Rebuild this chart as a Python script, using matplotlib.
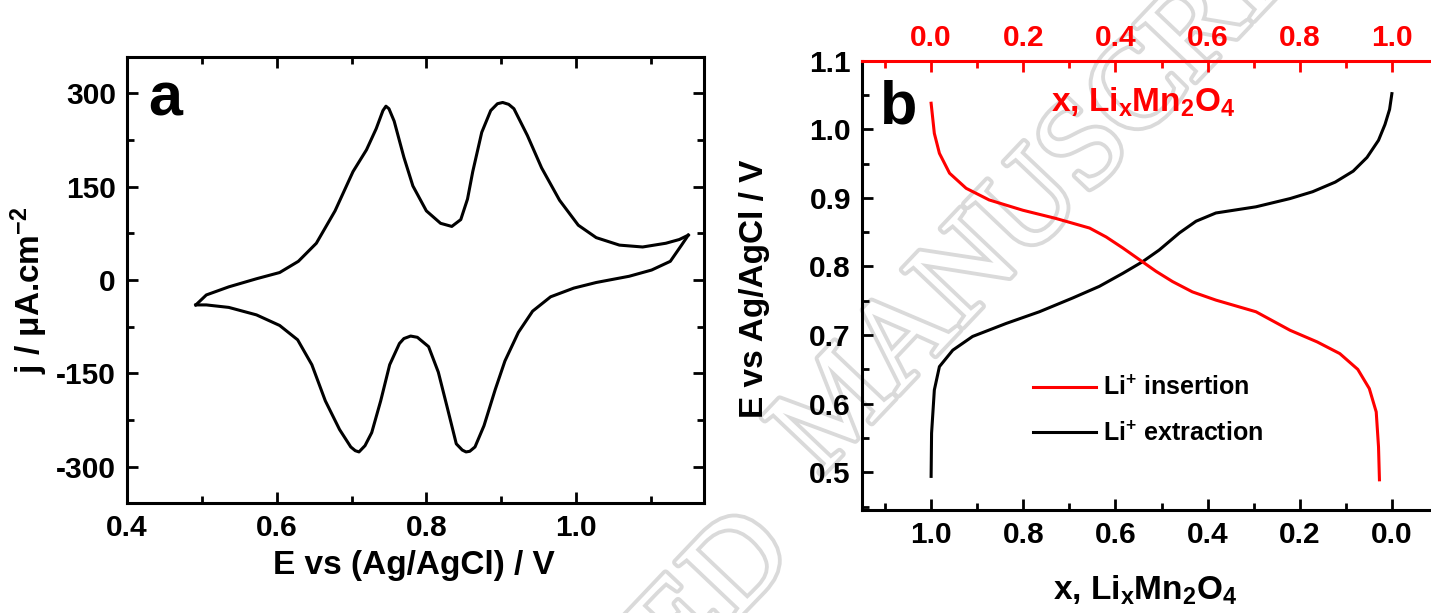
import numpy as np
import matplotlib
matplotlib.use('Agg')
import matplotlib.pyplot as plt
from matplotlib import patheffects
from matplotlib.ticker import MultipleLocator, FormatStrFormatter

plt.rcParams['font.family'] = ['Liberation Sans', 'DejaVu Sans']
plt.rcParams['font.weight'] = 'bold'
plt.rcParams['axes.labelweight'] = 'bold'
plt.rcParams['axes.unicode_minus'] = False
plt.rcParams['mathtext.fontset'] = 'custom'
plt.rcParams['mathtext.bf'] = 'Liberation Sans:bold'
plt.rcParams['mathtext.rm'] = 'Liberation Sans:bold'
plt.rcParams['mathtext.default'] = 'bf'

# panel a: cyclic voltammogram, anodic sweep (left vertex -> right vertex)
cv_E_up = [0.492, 0.506, 0.536, 0.573, 0.604, 0.629, 0.653, 0.678, 0.702, 0.720,
           0.733, 0.742, 0.746, 0.750, 0.757, 0.770, 0.782, 0.800, 0.819, 0.834,
           0.846, 0.855, 0.862, 0.874, 0.886, 0.895, 0.902, 0.910, 0.917, 0.935,
           0.954, 0.978, 1.003, 1.027, 1.058, 1.089, 1.120, 1.138, 1.150]
cv_j_up = [-40, -24, -11, 2, 12, 30, 59, 111, 174, 209,
           243, 272, 279, 275, 255, 197, 151, 111, 91, 86,
           97, 130, 174, 237, 272, 283, 285, 282, 275, 232,
           180, 128, 88, 68, 56, 53, 59, 65, 72]
# cathodic sweep (right vertex -> left vertex)
cv_E_down = [1.150, 1.141, 1.126, 1.101, 1.071, 1.027, 0.997, 0.966, 0.942, 0.923,
             0.905, 0.892, 0.877, 0.865, 0.858, 0.853, 0.848, 0.840, 0.828, 0.816,
             0.803, 0.788, 0.779, 0.770, 0.764, 0.751, 0.739, 0.727, 0.718, 0.714,
             0.710, 0.705, 0.699, 0.684, 0.665, 0.647, 0.628, 0.604, 0.573, 0.536,
             0.506, 0.492]
cv_j_down = [72, 56, 30, 16, 6, -4, -13, -27, -50, -84,
             -130, -176, -234, -268, -275, -276, -273, -263, -205, -148,
             -107, -92, -90, -94, -102, -136, -194, -245, -266, -271,
             -276, -274, -268, -240, -194, -136, -96, -73, -56, -44,
             -40, -40]

# panel b: Li+ insertion (top axis x) and extraction (bottom axis x)
ins_x = [0.000, 0.007, 0.018, 0.040, 0.076, 0.126, 0.199, 0.271, 0.344, 0.380,
         0.416, 0.452, 0.488, 0.524, 0.567, 0.618, 0.705, 0.779, 0.838, 0.887,
         0.926, 0.951, 0.966, 0.971, 0.973]
ins_E = [1.038, 0.994, 0.965, 0.936, 0.914, 0.897, 0.882, 0.870, 0.856, 0.843,
         0.827, 0.810, 0.793, 0.778, 0.763, 0.751, 0.734, 0.707, 0.690, 0.673,
         0.650, 0.622, 0.588, 0.537, 0.489]
ext_x = [1.000, 0.999, 0.993, 0.982, 0.953, 0.910, 0.837, 0.765, 0.693, 0.635,
         0.584, 0.541, 0.505, 0.461, 0.425, 0.382, 0.295, 0.221, 0.172, 0.123,
         0.084, 0.054, 0.029, 0.015, 0.005, 0.000]
ext_E = [0.494, 0.557, 0.620, 0.654, 0.678, 0.698, 0.717, 0.734, 0.754, 0.771,
         0.790, 0.807, 0.824, 0.849, 0.866, 0.878, 0.887, 0.899, 0.909, 0.923,
         0.939, 0.959, 0.984, 1.007, 1.029, 1.052]

W, H = 1431, 613
fig = plt.figure(figsize=(W / 100, H / 100), dpi=100)

def px_box(l, t, r, b):
    return [l / W, 1 - b / H, (r - l) / W, (b - t) / H]

def style_ticks(axis_obj, **kw):
    axis_obj.tick_params(which='both', direction='in', width=2, labelsize=21.5, **kw)
    axis_obj.tick_params(which='major', length=8)
    axis_obj.tick_params(which='minor', length=5)

# hollow watermark, drawn behind the axes
wm = dict(rotation=46.5, rotation_mode='anchor', va='baseline', fontsize=91,
          family='Liberation Serif', weight='normal', color='white', zorder=-5,
          path_effects=[patheffects.Stroke(linewidth=5.5, foreground='#dadada'),
                        patheffects.Normal()])
fig.text(796 / W, 1 - 556 / H, 'ACCEPTED', ha='right', **wm)
fig.text(820 / W, 1 - 477 / H, 'MANUSCRIPT', ha='left', **wm)

# ---- panel a
ax1 = fig.add_axes(px_box(127, 57, 704, 503))
ax1.set_facecolor('none')
ax1.plot(cv_E_up, cv_j_up, color='black', lw=2.2)
ax1.plot(cv_E_down, cv_j_down, color='black', lw=2.2)
ax1.set_xlim(0.4, 1.171)
ax1.set_ylim(-358, 358)
ax1.set_xticks([0.4, 0.6, 0.8, 1.0])
ax1.set_xticklabels(['0.4', '0.6', '0.8', '1.0'])
ax1.xaxis.set_minor_locator(MultipleLocator(0.1))
ax1.yaxis.set_major_locator(MultipleLocator(150))
ax1.yaxis.set_minor_locator(MultipleLocator(75))
style_ticks(ax1, top=True, right=True, pad=8)
for s in ax1.spines.values():
    s.set_linewidth(2.2)
ax1.set_xlabel('E vs (Ag/AgCl) / V', fontsize=24)
ax1.xaxis.set_label_coords(0.498, -0.105)
ax1.set_ylabel(r'j / μA.cm$^{-2}$', fontsize=24)
ax1.yaxis.set_label_coords(-0.133, 0.478)
ax1.text(148 / W, 1 - 100 / H, 'a', transform=fig.transFigure, fontsize=44,
         ha='left', va='center')

# ---- panel b
ax2 = fig.add_axes(px_box(862, 60.7, 1461, 510))
ax2.set_facecolor('none')
l_ext, = ax2.plot(ext_x, ext_E, color='black', lw=2.2, label=r'Li$^{+}$ extraction')
ax2.set_xlim(1.15, -0.15)
ax2.set_ylim(0.445, 1.1)
ax2.set_xticks([1.0, 0.8, 0.6, 0.4, 0.2, 0.0])
ax2.set_xticklabels(['1.0', '0.8', '0.6', '0.4', '0.2', '0.0'])
ax2.xaxis.set_minor_locator(MultipleLocator(0.1))
ax2.yaxis.set_major_locator(MultipleLocator(0.1))
ax2.yaxis.set_minor_locator(MultipleLocator(0.05))
ax2.yaxis.set_major_formatter(FormatStrFormatter('%.1f'))
style_ticks(ax2, top=False, right=False, pad=8)
for s in ax2.spines.values():
    s.set_linewidth(2.2)
ax2.spines['top'].set_visible(False)
ax2.spines['right'].set_visible(False)
ax2.set_ylabel('E vs Ag/AgCl / V', fontsize=24)
ax2.yaxis.set_label_coords(-0.154, 0.492)

ax3 = ax2.twiny()
ax3.set_facecolor('none')
l_ins, = ax3.plot(ins_x, ins_E, color='#ff0000', lw=2.2, label=r'Li$^{+}$ insertion')
ax3.set_xlim(-0.15, 1.15)
ax3.set_xticks([0.0, 0.2, 0.4, 0.6, 0.8, 1.0])
ax3.set_xticklabels(['0.0', '0.2', '0.4', '0.6', '0.8', '1.0'])
ax3.xaxis.set_minor_locator(MultipleLocator(0.1))
style_ticks(ax3, colors='#ff0000', pad=6)
for name, s in ax3.spines.items():
    s.set_visible(name == 'top')
ax3.spines['top'].set_color('#ff0000')
ax3.spines['top'].set_linewidth(2.2)

fig.text(1145 / W, 1 - 590 / H, r'x, Li$_{x}$Mn$_{2}$O$_{4}$', fontsize=24,
         ha='center', va='center')
fig.text(1143 / W, 1 - 102 / H, r'x, Li$_{x}$Mn$_{2}$O$_{4}$', fontsize=24,
         ha='center', va='center', color='#ff0000')
fig.text(880 / W, 1 - 108 / H, 'b', fontsize=44, ha='left', va='center')

fig.legend(handles=[l_ins, l_ext], loc='upper left',
           bbox_to_anchor=(1033 / W, 1 - 376 / H), frameon=False, fontsize=18,
           handlelength=2.5, handletextpad=0.3, labelspacing=0.85,
           borderpad=0, borderaxespad=0)

fig.savefig('out.png', dpi=100)
